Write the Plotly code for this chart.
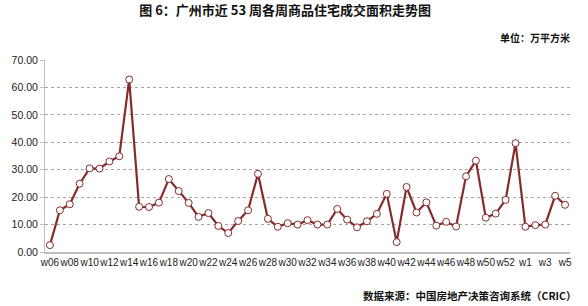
import plotly.graph_objects as go

weeks = [f"w{i:02d}" for i in range(6, 54)] + [f"w{i}" for i in range(1, 6)]
values = [2.5, 15.2, 17.4, 24.9, 30.5, 30.4, 33.0, 34.9, 62.9, 16.5,
          16.4, 18.0, 26.6, 22.2, 17.9, 12.8, 14.2, 9.5, 6.9, 11.3,
          15.2, 28.5, 12.1, 9.2, 10.5, 10.0, 11.6, 10.0, 10.0, 15.7,
          11.8, 9.0, 11.2, 13.9, 21.2, 3.6, 23.7, 14.4, 18.1, 9.6,
          11.0, 9.3, 27.6, 33.3, 12.5, 14.0, 19.0, 39.7, 9.2, 9.8,
          10.0, 20.5, 17.2]
tick_weeks = weeks[::2]
y_ticks = [0, 10, 20, 30, 40, 50, 60, 70]

title = "图 6：广州市近 53 周各周商品住宅成交面积走势图"
unit = "单位：万平方米"
source = "数据来源：中国房地产决策咨询系统（CRIC）"

line_color = "#862B2B"
cjk = "Noto Sans CJK SC"
num_font = "Liberation Sans, Arial"

fig = go.Figure()
fig.add_trace(go.Scatter(
    x=weeks, y=values, mode="lines+markers",
    line=dict(color=line_color, width=2.2),
    marker=dict(symbol="circle", size=7, color="white",
                line=dict(color=line_color, width=1)),
    showlegend=False,
))

fig.update_layout(
    width=588, height=306,
    margin=dict(l=40, r=18, t=60, b=53.5),
    paper_bgcolor="white", plot_bgcolor="white",
    title=dict(text=title, x=0.485, xanchor="center", y=0.967, yanchor="middle",
               font=dict(family=cjk, size=13, color="#111111", weight="bold")),
    xaxis=dict(
        type="category", categoryorder="array", categoryarray=weeks,
        range=[-0.5, len(weeks) - 0.5],
        tickmode="array", tickvals=tick_weeks, ticktext=tick_weeks,
        tickangle=0, showgrid=False, showline=True, linecolor="#BFBFBF",
        linewidth=1.5, ticks="", zeroline=False,
        tickfont=dict(family=num_font, size=10, color="#222222"),
    ),
    yaxis=dict(
        range=[0, 70], tickmode="array", tickvals=y_ticks,
        tickformat=".2f", showgrid=True, gridcolor="#A6A6A6", griddash="dot",
        gridwidth=1, showline=True, linecolor="#BFBFBF", linewidth=1,
        ticks="outside", ticklen=4, tickcolor="#BFBFBF", zeroline=False,
        tickfont=dict(family=num_font, size=10.5, color="#222222"),
    ),
    annotations=[
        dict(text=unit, xref="paper", yref="paper", x=1.004, y=1.119,
             xanchor="right", yanchor="middle", showarrow=False,
             font=dict(family=cjk, size=10, color="#111111", weight="bold")),
        dict(text=source, xref="paper", yref="paper", x=1.015, y=-0.226,
             xanchor="right", yanchor="middle", showarrow=False,
             font=dict(family=cjk, size=10.5, color="#111111", weight="bold")),
    ],
)

fig.write_html("out.html")
